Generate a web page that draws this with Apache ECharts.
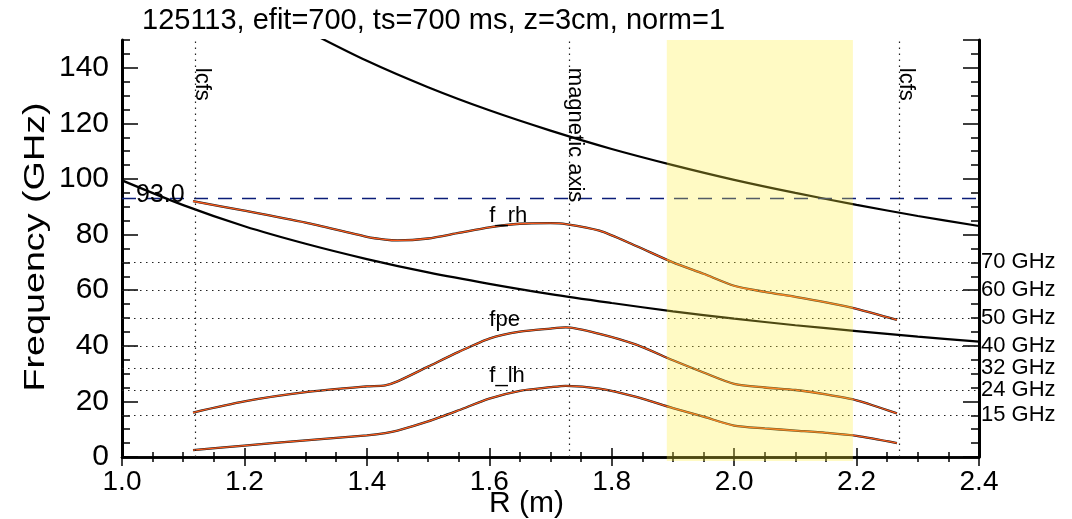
<!DOCTYPE html>
<html>
<head>
<meta charset="utf-8">
<script src="https://cdn.jsdelivr.net/npm/echarts@6/dist/echarts.min.js"></script>
<style>
  html, body { margin: 0; padding: 0; background: #ffffff; }
  #main { width: 1072px; height: 519px; }
</style>
</head>
<body>
<div id="main"></div>
<script>
// Major radius grid (m) for the plasma-profile frequencies
const R_PROFILE = [1.116, 1.2, 1.3, 1.4, 1.43, 1.45, 1.5, 1.55, 1.6, 1.65, 1.7, 1.725,
                   1.78, 1.84, 1.9, 1.95, 2.0, 2.05, 2.1, 2.15, 2.2, 2.266];
// Right-hand cutoff (GHz)
const F_RH = [92.0, 88.6, 84.3, 79.2, 78.2, 77.9, 78.6, 80.6, 82.6, 83.9, 84.1, 83.8,
              81.4, 75.9, 70.0, 65.9, 61.6, 59.4, 57.6, 55.6, 53.3, 49.3];
// Plasma frequency (GHz)
const F_PE = [16.0, 20.0, 23.3, 25.4, 25.8, 27.2, 32.5, 37.8, 42.6, 45.1, 46.2, 46.6,
              44.3, 40.4, 34.8, 30.4, 26.3, 25.0, 24.1, 22.5, 20.4, 15.7];
// Left-hand cutoff (GHz)
const F_LH = [2.5, 4.1, 6.0, 7.8, 8.6, 9.5, 12.8, 16.8, 21.0, 23.8, 25.1, 25.6,
              24.6, 21.6, 17.6, 14.5, 11.3, 10.3, 9.5, 8.7, 7.6, 5.0];

// Electron cyclotron frequency and its second harmonic (GHz)
const R_CE = [1.0, 1.1, 1.2, 1.3, 1.4, 1.5, 1.6, 1.7, 1.8, 1.9, 2.0, 2.1, 2.2, 2.3, 2.4];
const F_CE = [99.5, 90.6, 83.0, 76.7, 71.2, 66.4, 62.3, 58.6, 55.4, 52.4, 49.8, 47.4, 45.3, 43.3, 41.5];
const R_2CE = [1.3, 1.4, 1.5, 1.6, 1.7, 1.8, 1.9, 2.0, 2.1, 2.2, 2.3, 2.4];
const F_2CE = [153.5, 142.5, 133.0, 124.7, 117.4, 110.8, 105.0, 99.7, 95.0, 90.7, 86.7, 83.1];

// Diagnostic channels (GHz) and the cutoff level
const CHANNELS = [70, 60, 50, 40, 32, 24, 15];
const CUTOFF = 93.0;

// Flux surfaces marked by vertical lines
const SURFACE_NAMES = ['lcfs', 'magnetic axis', 'lcfs'];
const SURFACE_R = [1.116, 1.725, 2.266];

// Curve names placed next to each curve
const CURVE_NAMES = ['f_rh', 'fpe', 'f_lh'];
const CURVE_NAME_R = [1.60, 1.60, 1.60];
const CURVE_NAME_F = [86.6, 49.2, 29.0];

// Highlighted radial window (m)
const WINDOW_R = [1.89, 2.194];

const FONT = '"Liberation Sans", Arial, Helvetica, sans-serif';
const pairs = (xs, ys) => xs.map((x, i) => [x, ys[i]]);

const chart = echarts.init(document.getElementById('main'), null, { renderer: 'canvas' });

const orange = '#fb5a1c';
function profileSeries(name, values) {
  return [
    { name: name + '_edge', type: 'line', data: pairs(R_PROFILE, values), showSymbol: false,
      smooth: 0.25, lineStyle: { color: '#1a1a1a', width: 2.3 }, z: 3, silent: true },
    { name: name, type: 'line', data: pairs(R_PROFILE, values), showSymbol: false,
      smooth: 0.25, lineStyle: { color: orange, width: 1.3 }, z: 4, silent: true }
  ];
}

const dotted = { color: '#222', width: 1.2, type: [1.5, 4.5] };

const guideLines = [];
CHANNELS.forEach(f => guideLines.push({
  yAxis: f, lineStyle: dotted,
  label: { show: true, position: 'end', distance: 2, formatter: f + ' GHz',
           fontSize: 22, color: '#000', fontFamily: FONT }
}));
guideLines.push({
  yAxis: CUTOFF, lineStyle: { color: '#0b1d78', width: 1.4, type: [14, 10] },
  label: { show: true, position: 'insideStartTop', distance: [14, -9],
           formatter: CUTOFF.toFixed(1), fontSize: 25, color: '#000', fontFamily: FONT }
});
SURFACE_R.forEach(r => guideLines.push({ xAxis: r, lineStyle: dotted, label: { show: false } }));

const textLabel = {
  show: true, color: '#000', fontFamily: FONT, fontSize: 22, opacity: 1,
  formatter: p => p.name
};

const option = {
  animation: false,
  backgroundColor: '#ffffff',
  textStyle: { fontFamily: FONT },
  title: {
    text: '125113, efit=700, ts=700 ms, z=3cm, norm=1',
    left: 137, top: 1,
    textStyle: { fontSize: 29, fontWeight: 'normal', color: '#000', fontFamily: FONT }
  },
  graphic: [
    {
      type: 'text', x: 36, y: 247, rotation: Math.PI / 2, scaleX: 1.3, silent: true,
      style: {
        text: 'Frequency (GHz)', fill: '#000', font: '29px ' + FONT,
        align: 'center', verticalAlign: 'middle', textAlign: 'center', textVerticalAlign: 'middle'
      }
    }
  ],
  grid: { left: 122, right: 93, top: 40, bottom: 62, containLabel: false, outerBoundsMode: 'none' },
  xAxis: [
    {
      type: 'value', position: 'bottom', min: 1.0, max: 2.4, interval: 0.2,
      name: 'R (m)', nameLocation: 'middle', nameGap: 32, nameMoveOverlap: false,
      nameTextStyle: { fontSize: 30, color: '#000', fontFamily: FONT, padding: [0, 48, 0, 0] },
      axisLine: { show: true, lineStyle: { color: '#000', width: 2.5 } },
      axisTick: { show: true, inside: true, length: 9, lineStyle: { color: '#000', width: 1.5 } },
      minorTick: { show: true, splitNumber: 4, length: 5, lineStyle: { color: '#000', width: 1.5 } },
      axisLabel: { fontSize: 28, color: '#000', margin: 11, formatter: v => v.toFixed(1) },
      splitLine: { show: false }
    },
    {
      type: 'value', position: 'top', min: 1.0, max: 2.4, interval: 0.2,
      axisLine: { show: true, lineStyle: { color: '#000', width: 2.5 } },
      axisTick: { show: true, inside: true, length: 9, lineStyle: { color: '#000', width: 1.5 } },
      minorTick: { show: true, splitNumber: 4, length: 5, lineStyle: { color: '#000', width: 1.5 } },
      axisLabel: { show: false },
      splitLine: { show: false }
    }
  ],
  yAxis: [
    {
      type: 'value', position: 'left', min: 0, max: 150, interval: 20,
      axisLine: { show: true, lineStyle: { color: '#000', width: 3 } },
      axisTick: { show: true, inside: true, length: 16, lineStyle: { color: '#000', width: 1.5 } },
      axisLabel: { fontSize: 30, color: '#000', margin: 13, showMaxLabel: false },
      splitLine: { show: false }
    },
    {
      type: 'value', position: 'left', min: 0, max: 150, interval: 5,
      axisLine: { show: false },
      axisTick: { show: true, inside: true, length: 8, lineStyle: { color: '#000', width: 1.5 } },
      axisLabel: { show: false }, splitLine: { show: false }
    },
    {
      type: 'value', position: 'right', min: 0, max: 150, interval: 20,
      axisLine: { show: true, lineStyle: { color: '#000', width: 3 } },
      axisTick: { show: true, inside: true, length: 16, lineStyle: { color: '#000', width: 1.5 } },
      axisLabel: { show: false }, splitLine: { show: false }
    },
    {
      type: 'value', position: 'right', min: 0, max: 150, interval: 5,
      axisLine: { show: false },
      axisTick: { show: true, inside: true, length: 8, lineStyle: { color: '#000', width: 1.5 } },
      axisLabel: { show: false }, splitLine: { show: false }
    }
  ],
  series: [
    {
      name: 'f_ce', type: 'line', data: pairs(R_CE, F_CE), showSymbol: false, smooth: 0.3,
      lineStyle: { color: '#000', width: 2.2 }, z: 2, silent: true,
      markLine: { symbol: ['none', 'none'], silent: true, animation: false, data: guideLines }
    },
    {
      name: '2f_ce', type: 'line', data: pairs(R_2CE, F_2CE), showSymbol: false, smooth: 0.3,
      lineStyle: { color: '#000', width: 2.2 }, z: 2, silent: true
    },
    ...profileSeries('f_rh', F_RH),
    ...profileSeries('fpe', F_PE),
    ...profileSeries('f_lh', F_LH),
    {
      name: 'curve names', type: 'scatter', symbolSize: 0, silent: true, z: 6,
      itemStyle: { color: '#000', opacity: 1 },
      emphasis: { disabled: true },
      data: CURVE_NAMES.map((n, i) => ({ name: n, value: [CURVE_NAME_R[i], CURVE_NAME_F[i]] })),
      label: Object.assign({}, textLabel, { position: [0, 0], align: 'left', verticalAlign: 'middle' })
    },
    {
      name: 'surface names', type: 'scatter', symbolSize: 0, silent: true, z: 6,
      itemStyle: { color: '#000', opacity: 1 },
      emphasis: { disabled: true },
      data: SURFACE_NAMES.map((n, i) => ({ name: n, value: [SURFACE_R[i], 140] })),
      label: Object.assign({}, textLabel, { position: [-2, 0], align: 'left', verticalAlign: 'bottom', rotate: -90 })
    },
    {
      name: 'window', type: 'custom', z: 10, silent: true,
      data: [WINDOW_R],
      renderItem: function (params, api) {
        const p0 = api.coord([api.value(0), 150]);
        const p1 = api.coord([api.value(1), 0]);
        return {
          type: 'rect',
          shape: { x: p0[0], y: p0[1], width: p1[0] - p0[0], height: p1[1] - p0[1] + 4 },
          style: { fill: 'rgba(255, 240, 60, 0.3)' }
        };
      }
    }
  ]
};

chart.setOption(option);
</script>
</body>
</html>
